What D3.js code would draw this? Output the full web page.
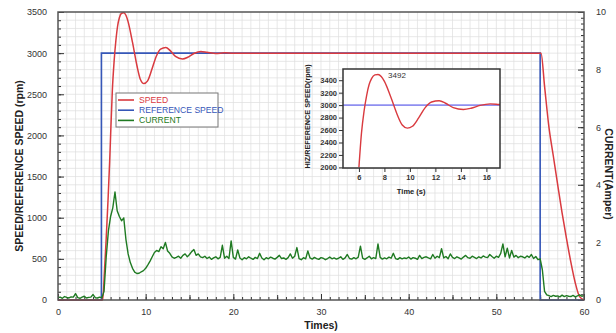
<!DOCTYPE html>
<html>
<head>
<meta charset="utf-8">
<script src="https://cdn.jsdelivr.net/npm/d3@7"></script>
<style>
  body { margin: 0; background: #fff; }
  svg { display: block; font-family: "Liberation Sans", Arial, sans-serif; }
  .grid line { stroke: #dedede; stroke-width: 0.7; }
  .axis path { display: none; }
  .axis line { stroke: #333; }
  .axis text { fill: #333; font-size: 9px; }
  .inset .axis text { font-size: 7.5px; font-weight: bold; }
</style>
</head>
<body>
<div id="chart"></div>
<script>
// time axis ticks / ranges
var xTicks = [0, 10, 20, 30, 40, 50, 60];
var speedTicks = [0, 500, 1000, 1500, 2000, 2500, 3000, 3500];
var currentTicks = [0, 2, 4, 6, 8, 10];
var insetXTicks = [6, 8, 10, 12, 14, 16];
var insetYTicks = [2000, 2200, 2400, 2600, 2800, 3000, 3200, 3400];

// reference speed (rpm)
var refTime = [0, 4.95, 4.95, 55.0, 55.0, 60];
var refSpeed = [0, 0, 3000, 3000, 0, 0];

// measured speed (rpm)
var speedTime = [0, 5.1, 5.3, 5.5, 5.7, 5.9, 6.0, 6.2, 6.4, 6.6, 6.8, 7.0, 7.25, 7.5, 7.75, 8.0, 8.5, 9.0, 9.4, 9.8,
  10.2, 10.7, 11.2, 11.7, 12.3, 12.8, 13.4, 14.2, 14.8, 15.5, 16.3, 17, 18, 19, 20, 55.1,
  55.5, 56, 56.5, 57, 57.5, 58, 58.5, 59, 59.5, 60];
var speedVal = [0, 0, 350, 750, 1200, 1700, 2000, 2550, 2900, 3150, 3330, 3430, 3485, 3492, 3460, 3380, 3130, 2850, 2680, 2630,
  2660, 2800, 2960, 3050, 3070, 3030, 2960, 2930, 2950, 2995, 3020, 3010, 2995, 3005, 3000, 3000,
  2600, 2100, 1750, 1400, 1060, 750, 460, 210, 40, 0];

// motor current (A), one sample every 0.25 s from 0 to 60 s
var currentStep = 0.25;
var currentVal = [
  0.08,0.10,0.06,0.12, 0.09,0.07,0.11,0.10, 0.22,0.08,0.06,0.10, 0.13,0.07,0.09,0.10, 0.19,0.08,0.07,0.10,
  0.08,0.30,1.50,2.40, 2.90,3.20,3.75,3.10, 2.90,2.75,2.85,2.10, 1.60,1.30,1.10,0.97, 0.92,0.93,0.98,1.02,
  1.10,1.22,1.35,1.50, 1.65,1.72,1.68,1.85, 1.78,2.00,1.70,1.62, 1.50,1.45,1.48,1.52, 1.45,1.55,1.60,1.50,
  1.58,1.68,1.75,1.55, 1.60,1.50,1.47,1.52, 1.44,1.49,1.41,1.46, 1.50,1.43,1.48,1.90, 1.45,1.52,1.44,2.05,
  1.48,1.42,1.74,1.46, 1.40,1.47,1.43,1.50, 1.45,1.41,1.48,1.44, 1.62,1.46,1.40,1.47, 1.43,1.49,1.45,1.42,
  1.48,1.55,1.44,1.46, 1.41,1.47,1.60,1.45, 1.52,1.82,1.44,1.40, 1.47,1.43,1.70,1.46, 1.42,1.48,1.44,1.41,
  1.47,1.45,1.40,1.44, 1.49,1.43,1.46,1.42, 1.45,1.50,1.41,1.46, 1.58,1.44,1.42,1.47, 1.43,1.49,1.87,1.45,
  1.41,1.46,1.52,1.43, 1.47,1.44,1.95,1.48, 1.42,1.46,1.43,1.49, 1.45,1.62,1.44,1.41, 1.47,1.43,1.46,1.44,
  1.49,1.42,1.47,1.45, 1.41,1.55,1.44,1.48, 1.50,1.46,1.43,1.58, 1.45,1.52,1.47,1.78, 1.46,1.51,1.43,1.60,
  1.48,1.44,1.50,1.46, 1.42,1.49,1.55,1.47, 1.45,1.52,1.48,1.44, 1.50,1.46,1.53,1.49, 1.47,1.58,1.51,1.45,
  1.52,1.48,1.62,1.95, 1.50,1.80,1.46,1.72, 1.49,1.55,1.47,1.52, 1.50,1.46,1.53,1.48, 1.58,1.44,1.51,1.40,
  1.43,1.05,0.30,0.18, 0.15,0.12,0.16,0.13, 0.14,0.11,0.17,0.12, 0.15,0.13,0.12,0.16, 0.11,0.14,0.18,0.13,
  0.15
];

var seriesNames = ["SPEED", "REFERENCE SPEED", "CURRENT"];
var seriesColors = ["#d93a3f", "#3657b8", "#1f7a22"];

var W = 616, H = 333;
var margin = {top: 12, right: 32, bottom: 33, left: 58};

var svg = d3.select("#chart").append("svg")
    .attr("width", W)
    .attr("height", H);

var width = W - margin.left - margin.right,
    height = H - margin.top - margin.bottom;

var g = svg.append("g").attr("transform", "translate(" + margin.left + "," + margin.top + ")");

var x = d3.scaleLinear().domain([0, 60]).range([0, width]);
var y = d3.scaleLinear().domain([0, 3500]).range([height, 0]);
var yc = d3.scaleLinear().domain([0, 10]).range([height, 0]);

// grid
g.append("g").attr("class", "grid")
    .selectAll("line").data(d3.range(1, 60))
    .enter().append("line")
    .attr("x1", function (d) { return x(d); })
    .attr("x2", function (d) { return x(d); })
    .attr("y1", 0).attr("y2", height);
g.append("g").attr("class", "grid")
    .selectAll("line").data(d3.range(100, 3500, 100))
    .enter().append("line")
    .attr("x1", 0).attr("x2", width)
    .attr("y1", function (d) { return y(d); })
    .attr("y2", function (d) { return y(d); });

// axes: minor ticks first, then labelled major ones
g.append("g").attr("class", "axis")
    .attr("transform", "translate(0," + height + ")")
    .call(d3.axisBottom(x).tickValues(d3.range(0, 61, 1)).tickSize(-3).tickFormat(""));
g.append("g").attr("class", "axis")
    .attr("transform", "translate(0," + height + ")")
    .call(d3.axisBottom(x).tickValues(d3.range(5, 60, 10)).tickSize(-5).tickFormat(""));
g.append("g").attr("class", "axis")
    .attr("transform", "translate(0," + height + ")")
    .call(d3.axisBottom(x).tickValues(xTicks).tickSize(-6).tickPadding(9).tickFormat(d3.format("d")));

g.append("g").attr("class", "axis")
    .call(d3.axisLeft(y).tickValues(d3.range(0, 3501, 100)).tickSize(-3).tickFormat(""));
g.append("g").attr("class", "axis")
    .call(d3.axisLeft(y).tickValues(speedTicks).tickSize(-6).tickPadding(11).tickFormat(d3.format("d")));

g.append("g").attr("class", "axis")
    .attr("transform", "translate(" + width + ",0)")
    .call(d3.axisRight(yc).tickValues(d3.range(0, 10.01, 0.2)).tickSize(-3).tickFormat(""));
g.append("g").attr("class", "axis")
    .attr("transform", "translate(" + width + ",0)")
    .call(d3.axisRight(yc).tickValues(currentTicks).tickSize(-6).tickPadding(12).tickFormat(d3.format("d")));

// series
var speedData = speedTime.map(function (t, i) { return [t, speedVal[i]]; });
var refData = refTime.map(function (t, i) { return [t, refSpeed[i]]; });
var currentData = currentVal.map(function (v, i) { return [i * currentStep, v]; });

var speedLine = d3.line()
    .x(function (d) { return x(d[0]); })
    .y(function (d) { return y(d[1]); })
    .curve(d3.curveMonotoneX);
var refLine = d3.line()
    .x(function (d) { return x(d[0]); })
    .y(function (d) { return y(d[1]); });
var currentLine = d3.line()
    .x(function (d) { return x(d[0]); })
    .y(function (d) { return yc(d[1]); });

g.append("path").datum(refData)
    .attr("fill", "none").attr("stroke", seriesColors[1]).attr("stroke-width", 1.6)
    .attr("d", refLine);
g.append("path").datum(speedData)
    .attr("fill", "none").attr("stroke", seriesColors[0]).attr("stroke-width", 1.5)
    .attr("d", speedLine);
g.append("path").datum(currentData)
    .attr("fill", "none").attr("stroke", seriesColors[2]).attr("stroke-width", 1.4)
    .attr("stroke-linejoin", "round")
    .attr("d", currentLine);

// frame
g.append("rect")
    .attr("width", width).attr("height", height)
    .attr("fill", "none").attr("stroke", "#555").attr("stroke-width", 1.5);

// legend
var legend = g.append("g").attr("transform", "translate(" + (116 - margin.left) + "," + (93 - margin.top) + ")");
legend.append("rect")
    .attr("width", 102).attr("height", 34)
    .attr("fill", "#fff").attr("stroke", "#777").attr("stroke-width", 1);
var items = legend.selectAll("g.item").data(seriesNames)
    .enter().append("g").attr("class", "item")
    .attr("transform", function (d, i) { return "translate(0," + (7 + i * 10.2) + ")"; });
items.append("line")
    .attr("x1", 2).attr("x2", 18)
    .attr("stroke", function (d, i) { return seriesColors[i]; })
    .attr("stroke-width", 1.6);
items.append("text")
    .attr("x", 23).attr("dy", "0.35em")
    .attr("fill", function (d, i) { return seriesColors[i]; })
    .style("font-size", "8.6px")
    .text(function (d) { return d; });

// axis titles
svg.append("text")
    .attr("transform", "translate(23," + (margin.top + height / 2 + 10) + ") rotate(-90)")
    .attr("text-anchor", "middle")
    .style("font-size", "10.5px").style("font-weight", "bold").attr("fill", "#222")
    .text("SPEED/REFERENCE SPEED (rpm)");
svg.append("text")
    .attr("transform", "translate(605," + (margin.top + height / 2 + 18) + ") rotate(90)")
    .attr("text-anchor", "middle")
    .style("font-size", "10.5px").style("font-weight", "bold").attr("fill", "#222")
    .text("CURRENT(Amper)");
svg.append("text")
    .attr("x", margin.left + width / 2).attr("y", 329)
    .attr("text-anchor", "middle")
    .style("font-size", "10.5px").style("font-weight", "bold").attr("fill", "#222")
    .text("Times)");

// inset zoom on the start-up transient
var inset = {left: 343, top: 69, width: 157, height: 99};
var ig = svg.append("g").attr("class", "inset")
    .attr("transform", "translate(" + inset.left + "," + inset.top + ")");
ig.append("rect")
    .attr("width", inset.width).attr("height", inset.height)
    .attr("fill", "#fff");

var ix = d3.scaleLinear().domain([4.75, 17.07]).range([0, inset.width]);
var iy = d3.scaleLinear().domain([1990, 3580]).range([inset.height, 0]);

ig.append("clipPath").attr("id", "insetClip")
    .append("rect").attr("width", inset.width).attr("height", inset.height);

ig.append("g").attr("class", "axis")
    .attr("transform", "translate(0," + inset.height + ")")
    .call(d3.axisBottom(ix).tickValues(insetXTicks).tickSize(4).tickPadding(3).tickFormat(d3.format("d")));
ig.append("g").attr("class", "axis")
    .call(d3.axisLeft(iy).tickValues(insetYTicks).tickSize(4).tickPadding(2).tickFormat(d3.format("d")));

var insetSpeed = d3.line()
    .x(function (d) { return ix(d[0]); })
    .y(function (d) { return iy(d[1]); })
    .curve(d3.curveMonotoneX);

ig.append("line")
    .attr("x1", 0).attr("x2", inset.width)
    .attr("y1", iy(refSpeed[2])).attr("y2", iy(refSpeed[2]))
    .attr("stroke", "#8f8ff0").attr("stroke-width", 1.6);
ig.append("path").datum(speedData.filter(function (d) { return d[0] >= 6 && d[0] <= 18; }))
    .attr("clip-path", "url(#insetClip)")
    .attr("fill", "none").attr("stroke", seriesColors[0]).attr("stroke-width", 1.4)
    .attr("d", insetSpeed);

var peak = d3.max(speedVal);
var peakT = speedTime[speedVal.indexOf(peak)];
ig.append("text")
    .attr("x", ix(peakT) + 10).attr("y", iy(peak) + 4)
    .style("font-size", "8px").attr("fill", "#333")
    .text(peak);

ig.append("rect")
    .attr("width", inset.width).attr("height", inset.height)
    .attr("fill", "none").attr("stroke", "#333").attr("stroke-width", 1.5);

ig.append("text")
    .attr("transform", "translate(-33," + (inset.height / 2 - 2) + ") rotate(-90)")
    .attr("text-anchor", "middle")
    .style("font-size", "7.3px").style("font-weight", "bold").attr("fill", "#222")
    .text("HIZ/REFERENCE SPEED(rpm)");
ig.append("text")
    .attr("x", ix(10.1)).attr("y", inset.height + 26)
    .attr("text-anchor", "middle")
    .style("font-size", "7.5px").style("font-weight", "bold").attr("fill", "#222")
    .text("Time (s)");
</script>
</body>
</html>
